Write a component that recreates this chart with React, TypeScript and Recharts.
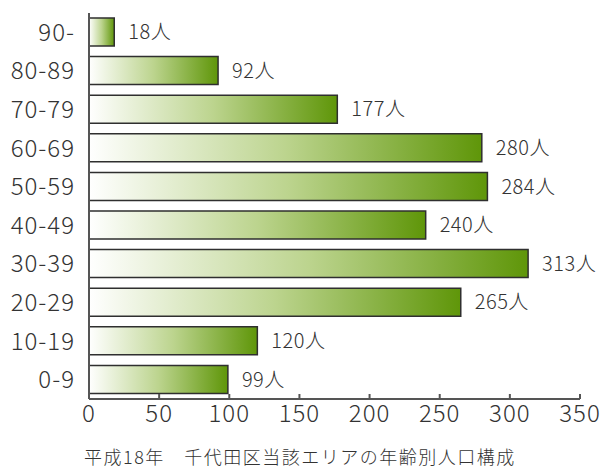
import { BarChart, Bar, XAxis, YAxis, LabelList } from "recharts";

const ageGroups = ["90-", "80-89", "70-79", "60-69", "50-59", "40-49", "30-39", "20-29", "10-19", "0-9"];
const population = [18, 92, 177, 280, 284, 240, 313, 265, 120, 99];
const xTicks = [0, 50, 100, 150, 200, 250, 300, 350];
const caption = "平成18年　千代田区当該エリアの年齢別人口構成";

const data = ageGroups.map((age, i) => ({ age, value: population[i] }));

const font = "'Noto Sans CJK JP', 'DejaVu Sans', sans-serif";
const axisColor = "#555";
const textColor = "#333";

// short ticks pointing up into the plot, label below the axis
const XTick = (props: any) => {
    const { x, y, payload } = props;
    return (
        <g>
            <line x1={x} x2={x} y1={y - 3} y2={y - 8} stroke={axisColor} strokeWidth={2} />
            <text x={x} y={y + 20} textAnchor="middle" fill={textColor} fontSize={24} fontWeight={300}
                fontFamily={font} letterSpacing={1}>
                {payload.value}
            </text>
        </g>
    );
};

export default function App() {
    return (
        <div style={{ position: "absolute", left: 0, top: 0, width: 609, height: 470, background: "#fff" }}>
            <BarChart
                width={609}
                height={440}
                data={data}
                layout="vertical"
                margin={{ top: 13, right: 29, bottom: 11, left: 0 }}
            >
                <defs>
                    <linearGradient id="barGrad" x1="0" y1="0" x2="1" y2="0">
                        <stop offset="0%" stopColor="#ffffff" />
                        <stop offset="50%" stopColor="#bcd48e" />
                        <stop offset="100%" stopColor="#5f9609" />
                    </linearGradient>
                </defs>
                <XAxis
                    type="number"
                    domain={[0, 350]}
                    ticks={xTicks}
                    interval={0}
                    axisLine={{ stroke: axisColor, strokeWidth: 2 }}
                    tickLine={false}
                    tickSize={0}
                    tickMargin={3}
                    height={30}
                    tick={<XTick />}
                />
                <YAxis
                    type="category"
                    dataKey="age"
                    width={89}
                    interval={0}
                    axisLine={{ stroke: axisColor, strokeWidth: 2 }}
                    tickLine={false}
                    tickMargin={8}
                    tick={{ fill: textColor, fontSize: 24, fontWeight: 300, fontFamily: font, letterSpacing: 1 }}
                />
                <Bar
                    dataKey="value"
                    barSize={28}
                    fill="url(#barGrad)"
                    stroke="#2f2f2f"
                    strokeWidth={1.5}
                    isAnimationActive={false}
                >
                    <LabelList
                        dataKey="value"
                        position="right"
                        offset={14}
                        formatter={(v: any) => `${v}人`}
                        style={{ fill: textColor, fontSize: 20, fontWeight: 300, fontFamily: font, letterSpacing: 0.5 }}
                    />
                </Bar>
            </BarChart>
            <div
                style={{
                    position: "absolute",
                    left: 0,
                    top: 446,
                    width: 600,
                    textAlign: "center",
                    fontFamily: font,
                    fontSize: 18,
                    fontWeight: 300,
                    letterSpacing: 1.5,
                    lineHeight: "20px",
                    color: textColor,
                }}
            >
                {caption}
            </div>
        </div>
    );
}
